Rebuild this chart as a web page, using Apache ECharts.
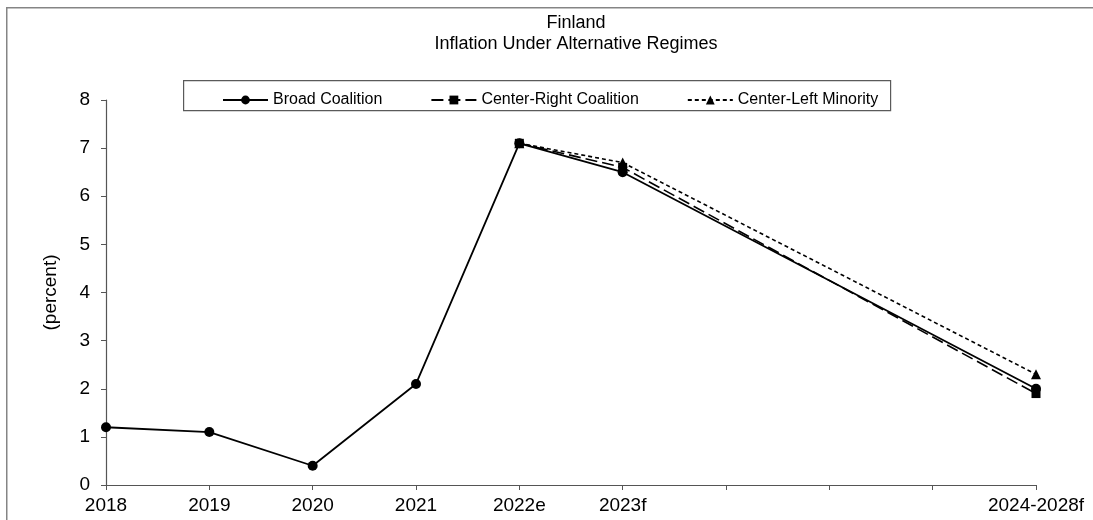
<!DOCTYPE html>
<html>
<head>
<meta charset="utf-8">
<script src="https://cdn.jsdelivr.net/npm/echarts@6/dist/echarts.min.js"></script>
<style>
  html, body { margin: 0; padding: 0; background: #fff; }
  #chart { width: 1093px; height: 520px; }
</style>
</head>
<body>
<div id="chart"></div>
<script>
// Periods on the horizontal axis; the three unnamed slots space out the 2024-2028 average
const categories = ['2018', '2019', '2020', '2021', '2022e', '2023f', ' ', '  ', '   ', '2024-2028f'];
const yTicks = [0, 1, 2, 3, 4, 5, 6, 7, 8];

// Inflation, percent
const broadCoalition      = [1.2, 1.1, 0.4, 2.1, 7.1, 6.5, null, null, null, 2.0];
const centerRightCoalition = [null, null, null, null, 7.1, 6.6, null, null, null, 1.9];
const centerLeftMinority  = [null, null, null, null, 7.1, 6.7, null, null, null, 2.3];

const FONT = 'Arial, "Liberation Sans", sans-serif';
const chart = echarts.init(document.getElementById('chart'), null, { renderer: 'canvas' });

chart.setOption({
  animation: false,
  backgroundColor: '#ffffff',
  textStyle: { fontFamily: FONT, color: '#000' },
  graphic: [
    // outer chart frame
    { type: 'rect', left: 6, top: 7, z: -10,
      shape: { width: 1200, height: 600 },
      style: { fill: 'transparent', stroke: '#858585', lineWidth: 1.5 } },
    // legend frame
    { type: 'rect', left: 183, top: 80, z: -5,
      shape: { width: 707, height: 30 },
      style: { fill: '#fff', stroke: '#5a5a5a', lineWidth: 1.2 } }
  ],
  title: {
    text: 'Finland\nInflation Under Alternative Regimes',
    left: 571, textAlign: 'center', top: 8,
    textStyle: { fontFamily: FONT, fontSize: 18, fontWeight: 'normal', color: '#000', lineHeight: 21 }
  },
  legend: {
    left: 217, top: 87,
    itemWidth: 45, itemHeight: 11, itemGap: 48,
    textStyle: { fontFamily: FONT, fontSize: 16, color: '#000' },
    data: ['Broad Coalition', 'Center-Right Coalition', 'Center-Left Minority']
  },
  grid: { left: 106, right: 57, top: 100, bottom: 35, containLabel: false },
  xAxis: {
    type: 'category',
    data: categories,
    boundaryGap: false,
    axisLine: { lineStyle: { color: '#555', width: 1.2 } },
    axisTick: { show: true, length: 5, alignWithLabel: true, interval: 0, lineStyle: { color: '#555' } },
    axisLabel: { interval: 0, margin: 11, fontFamily: FONT, fontSize: 19, color: '#000' },
    splitLine: { show: false }
  },
  yAxis: {
    type: 'value',
    min: yTicks[0], max: yTicks[yTicks.length - 1], interval: 1,
    name: '(percent)',
    nameLocation: 'middle',
    nameGap: 46,
    nameTextStyle: { fontFamily: FONT, fontSize: 19, color: '#000' },
    axisLine: { show: true, lineStyle: { color: '#555', width: 1.2 } },
    axisTick: { show: true, length: 5, lineStyle: { color: '#555' } },
    axisLabel: { margin: 16, fontFamily: FONT, fontSize: 19, color: '#000' },
    splitLine: { show: false }
  },
  series: [
    {
      name: 'Center-Left Minority', type: 'line', data: centerLeftMinority,
      connectNulls: true, symbol: 'triangle', symbolSize: 10, showSymbol: true,
      color: '#000',
      lineStyle: { color: '#000', width: 1.6, type: [4, 3] },
      itemStyle: { color: '#000' }, z: 2
    },
    {
      name: 'Center-Right Coalition', type: 'line', data: centerRightCoalition,
      connectNulls: true, symbol: 'rect', symbolSize: 9, showSymbol: true,
      color: '#000',
      lineStyle: { color: '#000', width: 1.6, type: [12, 5] },
      itemStyle: { color: '#000' }, z: 3
    },
    {
      name: 'Broad Coalition', type: 'line', data: broadCoalition,
      connectNulls: true, symbol: 'circle', symbolSize: 10, showSymbol: true,
      color: '#000',
      lineStyle: { color: '#000', width: 1.8, type: 'solid' },
      itemStyle: { color: '#000' }, z: 4
    }
  ]
});
</script>
</body>
</html>
